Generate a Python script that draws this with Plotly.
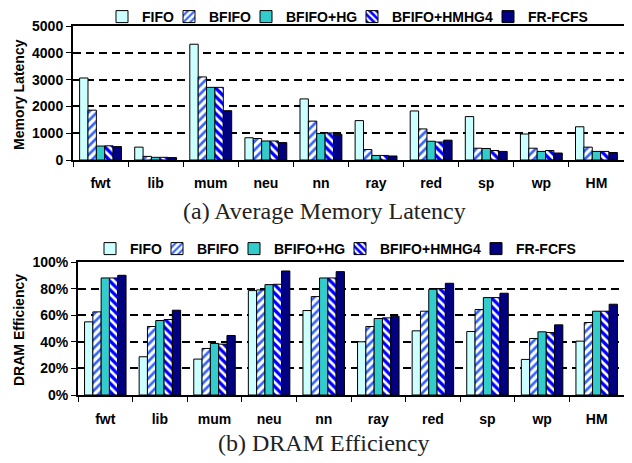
import plotly.graph_objects as go

categories = ["fwt", "lib", "mum", "neu", "nn", "ray", "red", "sp", "wp", "HM"]
series_names = ["FIFO", "BFIFO", "BFIFO+HG", "BFIFO+HMHG4", "FR-FCFS"]

latency_fifo = [3060, 480, 4320, 830, 2280, 1470, 1830, 1620, 970, 1240]
latency_bfifo = [1860, 135, 3100, 800, 1450, 390, 1160, 440, 440, 480]
latency_hg = [520, 100, 2710, 710, 990, 170, 700, 430, 320, 320]
latency_hmhg4 = [530, 100, 2710, 710, 1010, 170, 670, 355, 355, 320]
latency_frfcfs = [500, 90, 1840, 650, 960, 150, 740, 320, 260, 280]

eff_fifo = [55, 28.75, 27, 78.5, 63.5, 40, 48.25, 47.75, 26.75, 40.5]
eff_bfifo = [62.5, 51.5, 35, 79, 74, 51.5, 63, 64.25, 42.5, 54.5]
eff_hg = [88, 56, 38.75, 83, 88, 57.5, 79.5, 73.25, 47.5, 63]
eff_hmhg4 = [88, 56.75, 38.25, 83.25, 88, 58, 80, 73.25, 47, 63]
eff_frfcfs = [90, 63.75, 44.75, 93.25, 92.75, 59.25, 84, 76.5, 52.75, 68.25]

latency = [latency_fifo, latency_bfifo, latency_hg, latency_hmhg4, latency_frfcfs]
efficiency = [eff_fifo, eff_bfifo, eff_hg, eff_hmhg4, eff_frfcfs]

styles = [
    dict(color="#CCFFFF"),
    dict(color="white", pattern=dict(shape="/", fgcolor="#3366FF", bgcolor="white",
                                     size=6, solidity=0.45, fillmode="replace")),
    dict(color="#33CCCC"),
    dict(color="#0000FF", pattern=dict(shape="\\", fgcolor="white", bgcolor="#0000FF",
                                       size=6, solidity=0.45, fillmode="replace")),
    dict(color="#000080"),
]

W, H = 632, 463
OFF = 8  # page body margin offset (screen px -> figure px)
FONT = "Liberation Sans, Arial, sans-serif"
SERIF = "Liberation Serif, Times New Roman, serif"


def fx(px):
    return (px - OFF) / W


def fy(py):
    return 1 - (py - OFF) / H


# legend text start positions (screen px) for each entry, top and bottom panels
legend_text_top = [142, 209, 286, 392, 528]
legend_text_bottom = [130, 197, 274, 380, 516]

fig = go.Figure()
for i, (name, vals, st) in enumerate(zip(series_names, latency, styles)):
    lid = "legend" if i == 0 else f"legend{i + 1}"
    fig.add_trace(go.Bar(x=categories, y=vals, name=name, xaxis="x", yaxis="y",
                         legend=lid, showlegend=True,
                         marker=dict(line=dict(color="black", width=1), **st)))
for i, (name, vals, st) in enumerate(zip(series_names, efficiency, styles)):
    lid = f"legend{i + 6}"
    fig.add_trace(go.Bar(x=categories, y=vals, name=name, xaxis="x2", yaxis="y2",
                         legend=lid, showlegend=True,
                         marker=dict(line=dict(color="black", width=1), **st)))

tickfont = dict(family=FONT, size=14, color="black", weight="bold")


def xax(domain, anchor, standoff):
    return dict(domain=domain, anchor=anchor, type="category",
                showline=True, mirror=True, linecolor="black", linewidth=2,
                ticks="outside", tickson="boundaries", ticklen=5, tickcolor="black",
                tickwidth=1, tickfont=tickfont, ticklabelstandoff=standoff,
                showgrid=False, fixedrange=True)


def yax(domain, anchor, rng, dtick, suffix=""):
    return dict(domain=domain, anchor=anchor, range=rng, dtick=dtick,
                ticksuffix=suffix, showline=True, mirror=True, linecolor="black",
                linewidth=2, ticks="outside", ticklen=5, tickcolor="black",
                tickwidth=1, tickfont=tickfont, showgrid=True, gridcolor="black",
                gridwidth=2, griddash="8px,5px", zeroline=False, fixedrange=True)


legend_common = dict(orientation="h", xanchor="left", yanchor="middle",
                     bgcolor="rgba(0,0,0,0)", borderwidth=0,
                     font=dict(family=FONT, size=14, color="black", weight="bold"),
                     itemwidth=30)

legends = {}
for i, tx in enumerate(legend_text_top):
    lid = "legend" if i == 0 else f"legend{i + 1}"
    legends[lid] = dict(x=fx(tx - 40), y=fy(17), **legend_common)
for i, tx in enumerate(legend_text_bottom):
    legends[f"legend{i + 6}"] = dict(x=fx(tx - 40), y=fy(249), **legend_common)

fig.update_layout(
    width=W, height=H, margin=dict(l=0, r=0, t=0, b=0, autoexpand=False),
    paper_bgcolor="white", plot_bgcolor="white", showlegend=True,
    barmode="group", bargap=0.24, bargroupgap=0,
    xaxis=xax([fx(73), fx(624)], "y", 9),
    yaxis=yax([fy(160), fy(26)], "x", [0, 5000], 1000),
    xaxis2=xax([fx(78), fx(624)], "y2", 10),
    yaxis2=yax([fy(395), fy(262)], "x2", [0, 100], 20, "%"),
    annotations=[
        dict(text="Memory Latency", x=fx(19), y=fy(95), xref="paper", yref="paper",
             textangle=-90, showarrow=False, xanchor="center", yanchor="middle",
             font=dict(family=FONT, size=14, color="black", weight="bold")),
        dict(text="DRAM Efficiency", x=fx(19), y=fy(330), xref="paper", yref="paper",
             textangle=-90, showarrow=False, xanchor="center", yanchor="middle",
             font=dict(family=FONT, size=14, color="black", weight="bold")),
        dict(text="(a) Average Memory Latency", x=fx(324), y=fy(211),
             xref="paper", yref="paper", showarrow=False, xanchor="center",
             yanchor="middle", font=dict(family=SERIF, size=24, color="#222222")),
        dict(text="(b) DRAM Efficiency", x=fx(324), y=fy(443),
             xref="paper", yref="paper", showarrow=False, xanchor="center",
             yanchor="middle", font=dict(family=SERIF, size=24, color="#222222")),
    ],
    **legends,
)

fig.write_html("out.html")
